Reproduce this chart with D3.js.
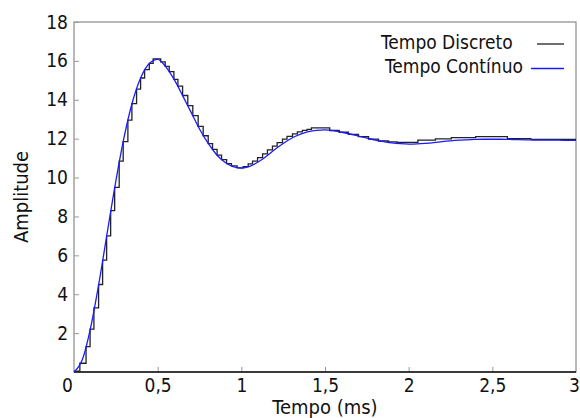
<!DOCTYPE html>
<html>
<head>
<meta charset="utf-8">
<script src="https://cdn.jsdelivr.net/npm/d3@7"></script>
<style>
  body { margin: 0; background: #fff; }
  svg { display: block; }
  .lbl { font-family: "DejaVu Sans Condensed", "DejaVu Sans", sans-serif; font-stretch: condensed; font-size: 19px; fill: #111; }
  .title { font-size: 20px; }
</style>
</head>
<body>
<script>
// continuous response, sampled every 0.05 ms
const contT = [0, 0.05, 0.1, 0.15, 0.2, 0.25, 0.3, 0.35, 0.4, 0.45, 0.5, 0.55, 0.6, 0.65, 0.7, 0.75,
  0.8, 0.85, 0.9, 0.95, 1.0, 1.05, 1.1, 1.15, 1.2, 1.25, 1.3, 1.35, 1.4, 1.45, 1.5, 1.55, 1.6,
  1.65, 1.7, 1.75, 1.8, 1.85, 1.9, 1.95, 2.0, 2.05, 2.1, 2.15, 2.2, 2.25, 2.3, 2.35, 2.4, 2.45,
  2.5, 2.55, 2.6, 2.65, 2.7, 2.75, 2.8, 2.85, 2.9, 2.95, 3.0];
const contV = [0, 0.64, 2.31, 4.62, 7.24, 9.82, 12.1, 13.91, 15.16, 15.87, 16.08, 15.68, 15.02, 14.2, 13.35, 12.5,
  11.78, 11.2, 10.8, 10.56, 10.49, 10.58, 10.8, 11.1, 11.44, 11.75, 12.02, 12.22, 12.36, 12.43, 12.45, 12.41, 12.33,
  12.24, 12.13, 12.03, 11.93, 11.85, 11.78, 11.74, 11.72, 11.73, 11.76, 11.8, 11.85, 11.89, 11.92, 11.94, 11.96, 11.97,
  11.97, 11.97, 11.96, 11.95, 11.94, 11.93, 11.93, 11.92, 11.92, 11.91, 11.91];

// discrete response (held samples)
const discT = [0, 0.035, 0.072, 0.096, 0.119, 0.147, 0.171, 0.195, 0.219, 0.243, 0.27, 0.294, 0.322, 0.346,
  0.374, 0.398, 0.422, 0.45, 0.473, 0.518, 0.545, 0.569, 0.597, 0.621, 0.649, 0.68, 0.71, 0.742, 0.772,
  0.802, 0.828, 0.855, 0.882, 0.912, 0.941, 0.975, 1.011, 1.041, 1.067, 1.097, 1.127, 1.156, 1.186, 1.214,
  1.246, 1.273, 1.306, 1.335, 1.365, 1.393, 1.419, 1.528, 1.585, 1.64, 1.7, 1.76, 1.82, 1.88, 1.93, 2.055,
  2.16, 2.255, 2.4, 2.59, 2.73, 3.0];
const discV = [0.05, 0.45, 1.3, 2.2, 3.3, 4.5, 5.75, 7.0, 8.3, 9.5, 10.85, 11.85, 12.95, 13.8,
  14.55, 15.12, 15.55, 15.87, 16.1, 15.95, 15.72, 15.45, 15.05, 14.7, 14.22, 13.7, 13.18, 12.63, 12.15,
  11.75, 11.45, 11.15, 10.92, 10.72, 10.6, 10.5, 10.56, 10.7, 10.85, 11.02, 11.22, 11.42, 11.62, 11.8,
  11.98, 12.12, 12.25, 12.35, 12.43, 12.48, 12.55, 12.42, 12.33, 12.22, 12.1, 11.98, 11.88, 11.84, 11.81, 11.93,
  11.99, 12.05, 12.1, 12.0, 11.96, 11.96];

const xTicks = [0, 0.5, 1, 1.5, 2, 2.5, 3];
const yTicks = [2, 4, 6, 8, 10, 12, 14, 16, 18];
const legendItems = ["Tempo Discreto", "Tempo Contínuo"];

const W = 580, H = 418;
const mLeft = 74, mRight = 576, mTop = 22, mBottom = 372;

const svg = d3.select("body").append("svg").attr("width", W).attr("height", H);

const x = d3.scaleLinear().domain([0, 3]).range([mLeft, mRight]);
const y = d3.scaleLinear().domain([0, 18]).range([mBottom, mTop]);

const fmt = (d) => String(d).replace(".", ",");

// frame
svg.append("rect")
  .attr("x", mLeft).attr("y", mTop)
  .attr("width", mRight - mLeft).attr("height", mBottom - mTop)
  .attr("fill", "none").attr("stroke", "#8a8a8a").attr("stroke-width", 1.2);

const xAxis = svg.append("g")
  .attr("transform", `translate(0,${mBottom})`)
  .call(d3.axisBottom(x).tickValues(xTicks).tickSize(-5).tickPadding(7).tickFormat(fmt));
const yAxis = svg.append("g")
  .attr("transform", `translate(${mLeft},0)`)
  .call(d3.axisLeft(y).tickValues(yTicks).tickSize(-5).tickPadding(6).tickFormat(fmt));

[xAxis, yAxis].forEach((g) => {
  g.select(".domain").remove();
  g.selectAll(".tick line").attr("stroke", "#999").attr("stroke-width", 1);
  g.selectAll(".tick text").attr("class", "lbl").attr("fill", "#111");
  g.attr("font-size", null).attr("font-family", null);
});
// end labels nudged inward like the original
xAxis.selectAll(".tick").filter((d) => d === 0).select("text").attr("x", -7);
xAxis.selectAll(".tick").filter((d) => d === 3).select("text").attr("x", -2);
xAxis.selectAll(".tick").filter((d) => d === 0 || d === 3).select("line").remove();

// bottom axis line in black
svg.append("line")
  .attr("x1", mLeft).attr("x2", mRight).attr("y1", mBottom).attr("y2", mBottom)
  .attr("stroke", "#111").attr("stroke-width", 1.3);

const plot = svg.append("g");

const stairs = d3.line()
  .x((d, i) => x(discT[i]))
  .y((d) => y(d))
  .curve(d3.curveStepAfter);
plot.append("path")
  .attr("d", stairs(discV))
  .attr("fill", "none").attr("stroke", "#222").attr("stroke-width", 1.3);

const smooth = d3.line()
  .x((d, i) => x(contT[i]))
  .y((d) => y(d))
  .curve(d3.curveMonotoneX);
plot.append("path")
  .attr("d", smooth(contV))
  .attr("fill", "none").attr("stroke", "#1a1aff").attr("stroke-width", 1.3);

// axis titles
svg.append("text").attr("class", "lbl title")
  .attr("x", (mLeft + mRight) / 2).attr("y", 414)
  .attr("text-anchor", "middle").text("Tempo (ms)");
svg.append("text").attr("class", "lbl title")
  .attr("transform", `translate(28,${(mTop + mBottom) / 2}) rotate(-90)`)
  .attr("text-anchor", "middle").text("Amplitude");

// legend
const legend = svg.append("g");
const legendRows = [
  { tx: 381, base: 49, ly: 44, lx1: 537, color: "#222" },
  { tx: 385, base: 73, ly: 68.5, lx1: 531, color: "#1a1aff" },
];
legendItems.forEach((name, i) => {
  const r = legendRows[i];
  legend.append("text").attr("class", "lbl").attr("x", r.tx).attr("y", r.base).text(name);
  legend.append("line")
    .attr("x1", r.lx1).attr("x2", 564).attr("y1", r.ly).attr("y2", r.ly)
    .attr("stroke", r.color).attr("stroke-width", 1.3);
});
</script>
</body>
</html>
